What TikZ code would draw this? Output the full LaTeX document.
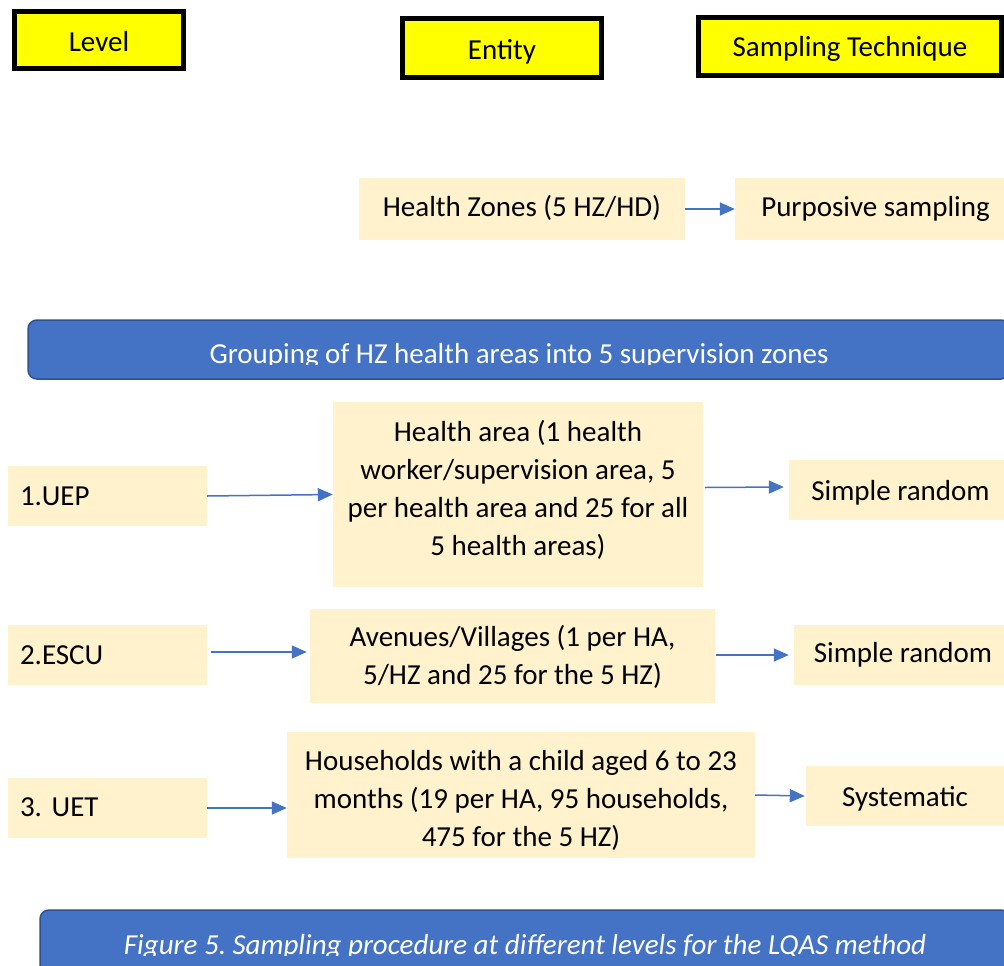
\documentclass[tikz,border=0pt]{standalone}
\usepackage{fontspec}
\setmainfont{Carlito}
\usetikzlibrary{arrows.meta,calc}
\definecolor{hdrYellow}{HTML}{FFFF00}
\definecolor{cream}{HTML}{FFF2CC}
\definecolor{accent}{HTML}{4472C4}
\definecolor{accentdark}{HTML}{2F528F}
% place baseline #1 below the node centre (negative = above)
\newcommand\tbase[2]{\raisebox{-#1}[0pt][0pt]{#2}}
\newcommand\tlines[3]{\raisebox{-#1}[0pt][0pt]{\parbox[t]{#2}{\centering #3}}}
\tikzset{
  txt/.style={font=\fontsize{29}{38}\selectfont},
  hdr/.style={txt, draw=black, line width=5pt, fill=hdrYellow, inner sep=0pt},
  cbox/.style={txt, fill=cream, inner sep=0pt, align=center},
  lbox/.style={txt, fill=cream, inner sep=0pt, text width=175pt, align=left},
  banner/.style={fill=accent, draw=accentdark, line width=1.5pt, rounded corners=9pt, inner sep=0pt},
  bantext/.style={txt, text=white, inner sep=0pt},
  arr/.style={draw=accent, line width=1.5pt, -{Triangle[length=15pt,width=13pt]}}
}
\begin{document}
\frenchspacing
\begin{tikzpicture}[x=1pt,y=-1pt]
\useasboundingbox (0,0) rectangle (1004,966);
\clip (0,0) rectangle (1004,966);
% headers
\node[hdr, minimum width=169pt, minimum height=57pt] (lvl) at (99,40) {\tbase{11.7pt}{Level}};
\node[hdr, minimum width=199pt, minimum height=59pt] (ent) at (502,48) {\tbase{11.3pt}{Entity}};
\node[hdr, minimum width=303pt, minimum height=58pt] (tech) at (850,46.5) {\tbase{10.2pt}{Sampling Technique}};
% health zones
\node[cbox, minimum width=326pt, minimum height=62pt] (hz) at (522,209) {\tbase{7.7pt}{Health Zones (5 HZ/HD)}};
\node[cbox, minimum width=269pt, minimum height=62pt] (purp) at (869.5,209) {\tbase{7.7pt}{\hspace*{12pt}Purposive sampling}};
\draw[arr] (hz.east) -- (purp.west);
% banner
\node[banner, minimum width=982pt, minimum height=59pt] (grp) at (519,349.5) {};
\begin{scope}
  \clip ($(grp.north west)+(0,-2)$) rectangle ($(grp.east)+(0,14.5)$);
  \node[bantext] (grptext) at (grp.center) {\tbase{13.5pt}{Grouping of HZ health areas into 5 supervision zones}};
\end{scope}
% row 1
\node[lbox, minimum width=199pt, minimum height=60pt] (uep) at (107.5,496) {\tbase{9pt}{1.UEP}};
\node[cbox, minimum width=370pt, minimum height=185pt] (harea) at (518,494.5) {\tlines{-52.8pt}{370pt}{Health area (1 health\\worker/supervision area, 5\\per health area and 25 for all\\5 health areas)}};
\node[cbox, minimum width=215pt, minimum height=60pt] (sr1) at (896.5,490) {\tbase{10pt}{\hspace*{8pt}Simple random}};
\draw[arr] (uep.east) -- (harea.west);
\draw[arr] ($(harea.east)+(2,-7)$) -- ($(sr1.west)+(-5,-3)$);
% row 2
\node[lbox, minimum width=199pt, minimum height=60pt] (escu) at (107.5,655) {\tbase{9.3pt}{2.ESCU}};
\node[cbox, minimum width=405pt, minimum height=94pt] (aven) at (512.5,656) {\tlines{-9.3pt}{405pt}{Avenues/Villages (1 per HA,\\5/HZ and 25 for the 5 HZ)}};
\node[cbox, minimum width=210pt, minimum height=60pt] (sr2) at (899,655) {\tbase{7.7pt}{\hspace*{8pt}Simple random}};
\draw[arr] ($(escu.east)+(4,-3)$) -- ($(aven.west)+(-3,-4)$);
\draw[arr] ($(aven.east)+(1,-1)$) -- ($(sr2.west)+(-5,0)$);
% row 3
\node[lbox, minimum width=199pt, minimum height=60pt] (uet) at (107.5,808) {\tbase{8.7pt}{3. UET}};
\node[cbox, minimum width=468pt, minimum height=126pt] (hh) at (521,795) {\tlines{-25pt}{468pt}{Households with a child aged 6 to 23\\months (19 per HA, 95 households,\\475 for the 5 HZ)}};
\node[cbox, minimum width=198pt, minimum height=60pt] (sys) at (905,796) {\tbase{10pt}{Systematic}};
\draw[arr] (uet.east) -- (uet.east -| hh.west);
\draw[arr] (hh.east) -- ($(sys.west)+(-1,0)$);
% caption
\node[banner, minimum width=970pt, minimum height=70pt] (cap) at (525,945) {};
\begin{scope}
  \clip ($(cap.north west)+(0,-2)$) rectangle ($(cap.east)+(0,10)$);
  \node[bantext, font=\fontsize{29}{38}\selectfont\itshape] (captext) at (cap.center) {\tbase{9.5pt}{Figure 5. Sampling procedure at different levels for the LQAS method}};
\end{scope}
\end{tikzpicture}
\end{document}
